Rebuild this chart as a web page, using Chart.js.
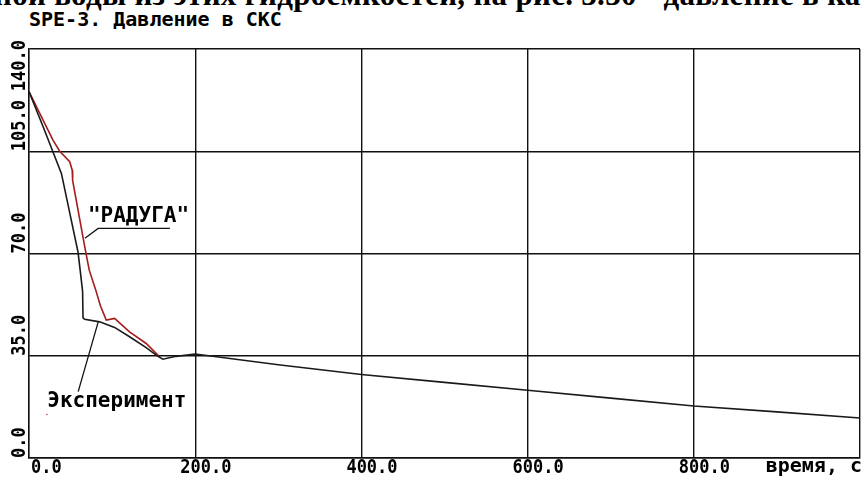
<!DOCTYPE html>
<html>
<head>
<meta charset="utf-8">
<script src="https://cdn.jsdelivr.net/npm/chart.js@4.4.1/dist/chart.umd.min.js"></script>
<style>
  html, body { margin:0; padding:0; background:#fff; }
  #wrap { position:relative; width:864px; height:479px; overflow:hidden; background:#fff; }
  #cut { position:absolute; left:-6px; top:-21px; white-space:nowrap; font:bold 31px "Liberation Serif", serif; letter-spacing:0.3px; line-height:31px; color:#000; }
  #title { position:absolute; left:29px; top:9px; white-space:pre; font:bold 20px "DejaVu Sans Mono", monospace; line-height:20px; color:#000; }
  canvas { position:absolute; left:0; top:0; }
</style>
</head>
<body>
<div id="wrap">
  <div id="cut">ной воды из этих гидроемкостей, на рис. 3.30 - давление в ка</div>
  <div id="title">SPE-3. Давление в СКС</div>
  <canvas id="c" width="864" height="479"></canvas>
</div>
<script>
// ---- data ----
const xTickValues = [0, 200, 400, 600, 800];
const xTickLabels = ['0.0', '200.0', '400.0', '600.0', '800.0'];
const yTickValues = [0, 35, 70, 105, 140];
const yTickLabels = ['0.0', '35.0', '70.0', '105.0', '140.0'];
const xAxisLabel = 'время, с';
const seriesNames = ['Эксперимент', '"РАДУГА"'];

const expTime     = [0, 17, 39, 59, 61.5, 64.5, 65, 67, 85, 103, 121, 141, 153, 161, 177, 200, 300, 400, 500, 600, 700, 800, 900, 1000];
const expPressure = [125.4, 113.4, 97.4, 70.5, 64.5, 57, 48, 47.5, 46.6, 44.7, 41.5, 37.8, 35.2, 33.8, 34.8, 35.6, 31.9, 28.6, 25.9, 23.2, 20.5, 17.8, 15.8, 13.7];

const radugaTime     = [0, 29, 37, 49, 52, 52.5, 67.5, 72.5, 80, 86, 93, 103, 121, 141, 153, 157];
const radugaPressure = [125.4, 108.7, 105, 101.4, 98.5, 95, 71.7, 64.3, 57.8, 52, 47.2, 47.8, 43.2, 39.2, 35.8, 34.6];

const strayTime = [21.6];
const strayPressure = [14.9];

// annotation anchors (data units)
const radugaLeader = [[67.3, 75.2], [83.2, 78.6], [169.6, 78.6]];
const radugaText = [70.9, 80.7];
const expLeader = [[59.2, 22.7], [83.2, 46.5]];
const expText = [22, 17.4];

const toXY = (xs, ys) => xs.map((x, i) => ({ x: x, y: ys[i] }));

const NUM_FONT = 'bold 17px "DejaVu Sans Mono", monospace';

const labelsPlugin = {
  id: 'customLabels',
  afterDraw(chart) {
    const ctx = chart.ctx, sx = chart.scales.x, sy = chart.scales.y, a = chart.chartArea;
    const P = (p) => [sx.getPixelForValue(p[0]), sy.getPixelForValue(p[1])];
    ctx.save();
    ctx.fillStyle = '#000';
    ctx.font = NUM_FONT;
    ctx.textBaseline = 'alphabetic';
    ctx.textAlign = 'left';
    xTickValues.forEach((v, i) => {
      const px = Math.max(sx.getPixelForValue(v) - 15, a.left + 2);
      ctx.save(); ctx.translate(px, 473); ctx.scale(1, 1.12);
      ctx.fillText(xTickLabels[i], 0, 0); ctx.restore();
    });
    ctx.font = 'bold 20px "DejaVu Sans Mono", monospace';
    ctx.textAlign = 'right';
    ctx.fillText(xAxisLabel, a.right + 2, 472);
    ctx.font = NUM_FONT;
    ctx.textAlign = 'left';
    yTickValues.forEach((v, i) => {
      const w = ctx.measureText(yTickLabels[i]).width;
      const py = Math.max(sy.getPixelForValue(v), a.top - 9 + w);
      ctx.save(); ctx.translate(25, py); ctx.rotate(-Math.PI / 2); ctx.scale(1, 1.12);
      ctx.fillText(yTickLabels[i], 0, 0); ctx.restore();
    });
    // annotations
    ctx.strokeStyle = '#111';
    ctx.lineWidth = 1.3;
    [radugaLeader, expLeader].forEach(pts => {
      ctx.beginPath();
      pts.forEach((p, k) => { const q = P(p); if (k) ctx.lineTo(q[0], q[1]); else ctx.moveTo(q[0], q[1]); });
      ctx.stroke();
    });
    ctx.font = 'bold 21px "DejaVu Sans Mono", monospace';
    let q = P(radugaText); ctx.fillText(seriesNames[1], q[0], q[1]);
    q = P(expText); ctx.fillText(seriesNames[0], q[0], q[1]);
    ctx.restore();
  }
};

new Chart(document.getElementById('c'), {
  type: 'line',
  data: {
    datasets: [
      { label: seriesNames[0], data: toXY(expTime, expPressure), borderColor: '#1a1a1a', borderWidth: 1.6, pointRadius: 0, tension: 0, order: 0 },
      { label: seriesNames[1], data: toXY(radugaTime, radugaPressure), borderColor: '#a41c1c', borderWidth: 1.6, pointRadius: 0, tension: 0, order: 1 },
      { label: 'dot', data: toXY(strayTime, strayPressure), showLine: false, pointRadius: 0.8, pointBackgroundColor: '#b04040', pointBorderWidth: 0, order: 2 }
    ]
  },
  options: {
    responsive: false,
    devicePixelRatio: 1,
    animation: false,
    layout: { padding: { left: 29, right: 3, top: 49, bottom: 21 } },
    plugins: { legend: { display: false }, tooltip: { enabled: false }, title: { display: false } },
    scales: {
      x: {
        type: 'linear', min: 0, max: 1000,
        afterBuildTicks: (s) => { s.ticks = [0, 200, 400, 600, 800, 1000].map(v => ({ value: v })); },
        ticks: { display: false },
        grid: { color: '#111', lineWidth: 1.4, drawTicks: false, tickLength: 0 },
        border: { display: true, color: '#111', width: 1.4 }
      },
      y: {
        type: 'linear', min: 0, max: 140,
        afterBuildTicks: (s) => { s.ticks = yTickValues.map(v => ({ value: v })); },
        ticks: { display: false },
        grid: { color: '#111', lineWidth: 1.4, drawTicks: false, tickLength: 0 },
        border: { display: true, color: '#111', width: 1.4 }
      }
    }
  },
  plugins: [labelsPlugin]
});
</script>
</body>
</html>
